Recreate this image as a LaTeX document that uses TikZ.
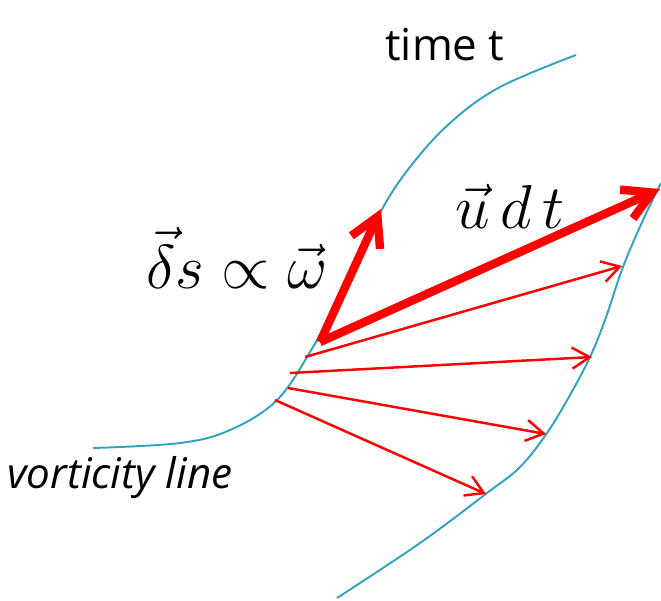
\documentclass[tikz,border=0pt]{standalone}
\usepackage{fontspec}
\setsansfont{Open Sans}
\usetikzlibrary{arrows.meta}
\definecolor{vcyan}{RGB}{49,163,193}

\begin{document}
\begin{tikzpicture}[x=0.02cm,y=-0.02cm,
  vline/.style={draw=vcyan, line width=1.1pt},
  thinvec/.style={draw=red, line width=1.4pt, -{Straight Barb[length=10pt,width=12pt]}},
  thickvec/.style={draw=red, line width=4.8pt, -{Straight Barb[length=16pt,width=18pt]}},
  lbl/.style={font=\sffamily\fontsize{25}{29}\selectfont, inner sep=0pt},
  mlbl/.style={font=\Huge, inner sep=0pt}
]
\useasboundingbox (0,0) rectangle (661,600);

% Vorticity lines
\draw[vline] plot[smooth, tension=0.6] coordinates {(93,448) (180,443) (230,430) (277,400) (313,347)
  (350,280) (380,213) (410,167) (450,123) (500,87) (576,55)};
\draw[vline] plot[smooth, tension=0.6] coordinates {(337,598) (420,543) (487,493) (520,467) (547,433)
  (570,395) (590,357) (605,320) (623,267) (643,220) (661,183)};

% Start and end points
\coordinate (o) at (320,342);
\coordinate (ds) at (381,209);
\coordinate (ud) at (660,189);
\coordinate (a1) at (305,357); \coordinate (b1) at (622,266);
\coordinate (a2) at (290,373); \coordinate (b2) at (592,357);
\coordinate (a3) at (288,388); \coordinate (b3) at (546,434);
\coordinate (a4) at (275,400); \coordinate (b4) at (486,494);

% Displacement vectors
\foreach \i in {1,...,4}
  \draw[thinvec] (a\i) -- (b\i);
\draw[thickvec] (o) -- (ds);
\draw[thickvec] (o) -- (ud);

% Labels
\node[lbl] (time) at (445,45) {time t};
\node[lbl, font=\sffamily\itshape\fontsize{24}{28}\selectfont] (vort) at (120,478) {vorticity line};
\node[mlbl] (dslbl) at (237,258) {\scalebox{1.42}{$\vec{\delta}s \propto \vec{\omega}$}};
\node[mlbl] (udlbl) at (510,206) {\scalebox{1.42}{$\vec{u}\,d\,t$}};
\end{tikzpicture}
\end{document}
